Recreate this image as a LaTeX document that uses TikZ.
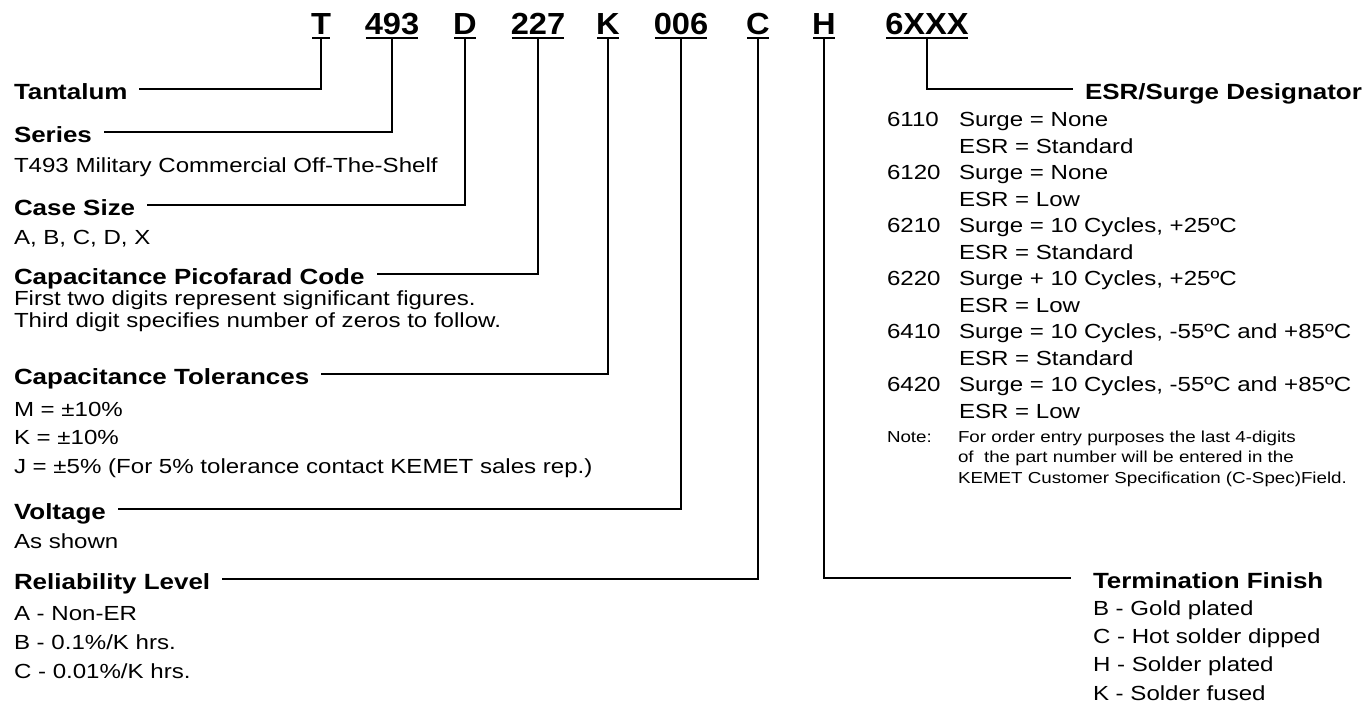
\documentclass[tikz,border=0pt]{standalone}
\usepackage{fontspec}
\setmainfont[FakeStretch=1.18]{Liberation Sans}
\newfontfamily\codefont[FakeStretch=1.07]{Liberation Sans}
\begin{document}
\begin{tikzpicture}[x=1pt,y=-1pt,
  every node/.style={inner sep=0pt, outer sep=0pt},
  code/.style={font=\codefont\fontsize{30.5}{30.5}\selectfont\bfseries, anchor=base, text depth=0pt, inner ysep=4pt, inner xsep=-1pt},
  head/.style={font=\fontsize{22}{22}\selectfont\bfseries, anchor=west, text height=20pt, text depth=0pt, inner ysep=0pt, inner xsep=12pt},
  item/.style={font=\fontsize{20.4}{20.4}\selectfont, anchor=base west},
  note/.style={font=\fontsize{15.9}{15.9}\selectfont, anchor=base west},
  conn/.style={line width=2.6pt},
  uline/.style={line width=2.4pt}]
\useasboundingbox (0,0) rectangle (1372,705);
\fill[white] (0,0) rectangle (1372,705);
% code letters
\node[code] (cT) at (321,34) {T};
\node[code] (c493) at (392,34) {493};
\node[code] (cD) at (465,34) {D};
\node[code] (c227) at (538,34) {227};
\node[code] (cK) at (608,34) {K};
\node[code] (c006) at (681,34) {006};
\node[code] (cC) at (758,34) {C};
\node[code] (cH) at (824,34) {H};
\node[code] (c6X) at (927,34) {6XXX};
\foreach \n in {cT,c493,cD,c227,cK,c006,cC,cH,c6X}
  \draw[uline] (\n.south west) -- (\n.south east);
% left headings
\node[head] (tant) at (2,89) {Tantalum};
\node[head] (ser) at (2,132) {Series};
\node[head] (cas) at (2,205) {Case Size};
\node[head] (cpc) at (2,274) {Capacitance Picofarad Code};
\node[head] (ctol) at (2,374) {Capacitance Tolerances};
\node[head] (volt) at (2,509) {Voltage};
\node[head] (rel) at (2,579) {Reliability Level};
% left descriptions
\node[item] (serd) at (14,172) {T493 Military Commercial Off-The-Shelf};
\node[item] (casd) at (14,244) {A, B, C, D, X};
\node[item] (cpc1) at (14,305) {First two digits represent significant figures.};
\node[item] (cpc2) at (14,327.7) {Third digit specifies number of zeros to follow.};
\node[item] (tol1) at (14,416) {M = ±10\%};
\node[item] (tol2) at (14,444) {K = ±10\%};
\node[item] (tol3) at (14,473) {J = ±5\% (For 5\% tolerance contact KEMET sales rep.)};
\node[item] (vold) at (14,548) {As shown};
\node[item] (rel1) at (14,620) {A - Non-ER};
\node[item] (rel2) at (14,649) {B - 0.1\%/K hrs.};
\node[item] (rel3) at (14,678) {C - 0.01\%/K hrs.};
% right headings
\node[head] (esr) at (1073,89) {ESR/Surge Designator};
\node[head, inner xsep=22pt] (term) at (1071,578) {Termination Finish};
% ESR list
\node[item] (n1) at (887,126.5) {6110};
\node[item] (s1) at (959,126.5) {Surge = None};
\node[item] (e1) at (959,153) {ESR = Standard};
\node[item] (n2) at (887,179.5) {6120};
\node[item] (s2) at (959,179.5) {Surge = None};
\node[item] (e2) at (959,206) {ESR = Low};
\node[item] (n3) at (887,232.5) {6210};
\node[item] (s3) at (959,232.5) {Surge = 10 Cycles, +25ºC};
\node[item] (e3) at (959,259) {ESR = Standard};
\node[item] (n4) at (887,285.5) {6220};
\node[item] (s4) at (959,285.5) {Surge + 10 Cycles, +25ºC};
\node[item] (e4) at (959,312) {ESR = Low};
\node[item] (n5) at (887,338.5) {6410};
\node[item] (s5) at (959,338.5) {Surge = 10 Cycles, -55ºC and +85ºC};
\node[item] (e5) at (959,365) {ESR = Standard};
\node[item] (n6) at (887,391.5) {6420};
\node[item] (s6) at (959,391.5) {Surge = 10 Cycles, -55ºC and +85ºC};
\node[item] (e6) at (959,418) {ESR = Low};
\node[note] (nt) at (887,442.3) {Note:};
\node[note] (nt1) at (958,442.3) {For order entry purposes the last 4-digits};
\node[note] (nt2) at (958,462.7) {of \ the part number will be entered in the};
\node[note] (nt3) at (958,483.3) {KEMET Customer Specification (C-Spec)Field.};
% termination list
\node[item] (t1) at (1093,615) {B - Gold plated};
\node[item] (t2) at (1093,643) {C - Hot solder dipped};
\node[item] (t3) at (1093,671.7) {H - Solder plated};
\node[item] (t4) at (1093,700) {K - Solder fused};
% connectors
\draw[conn] (cT.south) |- (tant.east);
\draw[conn] (c493.south) |- (ser.east);
\draw[conn] (cD.south) |- (cas.east);
\draw[conn] (c227.south) |- (cpc.east);
\draw[conn] (cK.south) |- (ctol.east);
\draw[conn] (c006.south) |- (volt.east);
\draw[conn] (cC.south) |- (rel.east);
\draw[conn] (cH.south) |- (term.west);
\draw[conn] (c6X.south) |- (esr.west);
\end{tikzpicture}
\end{document}
